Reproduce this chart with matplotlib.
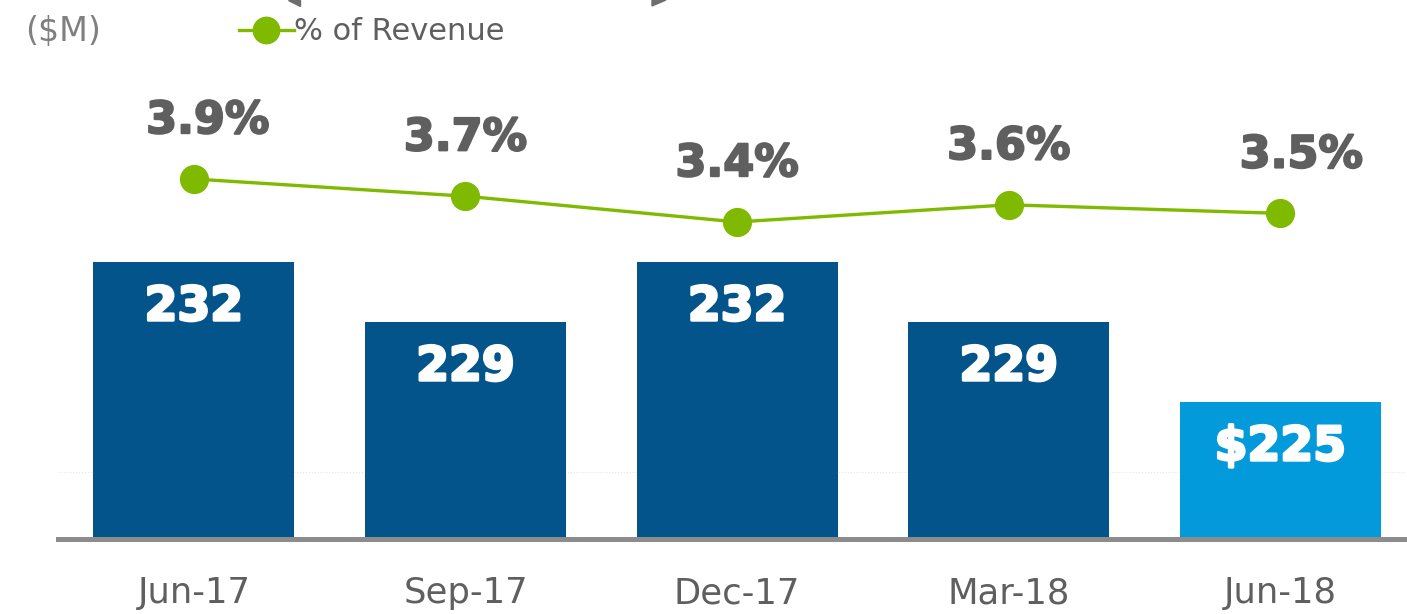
import numpy as np
import matplotlib.pyplot as plt
import matplotlib.patheffects as pe
from matplotlib.patches import Polygon

quarters = ['Jun-17', 'Sep-17', 'Dec-17', 'Mar-18', 'Jun-18']
spend = [232, 229, 232, 229, 225]
spend_labels = ['232', '229', '232', '229', '$225']
pct_rev = [3.9, 3.7, 3.4, 3.6, 3.5]

dark_blue = '#02548A'
light_blue = '#039ADB'
green = '#7FBA00'
grey_txt = '#5F5F5F'

fig = plt.figure(figsize=(14.07, 6.14), dpi=100)
ax = fig.add_axes([58 / 1407, 75 / 614, 1 - 58 / 1407, 539 / 614])

x = np.arange(len(quarters))
colors = [dark_blue] * 4 + [light_blue]
ax.bar(x, spend, width=0.74, color=colors, zorder=2)
ax.set_xlim(-0.5, 4.466)
ax.set_ylim(218.15, 245.1)

for xi, v, lab in zip(x, spend, spend_labels):
    ax.annotate(lab, (xi, v), xytext=(0, -33), textcoords='offset points',
                ha='center', va='center', color='white', fontsize=34,
                fontweight='bold', zorder=4,
                path_effects=[pe.withStroke(linewidth=2, foreground='white')])

ax.set_xticks(x)
ax.set_xticklabels(quarters, fontsize=25.5, color=grey_txt)
ax.tick_params(axis='x', length=0, pad=27)
ax.set_yticks([])
for s in ['top', 'right', 'left']:
    ax.spines[s].set_visible(False)
ax.spines['bottom'].set_color('#8C8C8C')
ax.spines['bottom'].set_linewidth(3.6)
ax.set_facecolor('none')

# faint guide line
ax.axhline(221.5, color='#E6E6E6', lw=0.8, ls=':', zorder=0)

ax2 = ax.twinx()
ax2.set_ylim(-0.286, 5.981)
ax2.plot(x, pct_rev, color=green, lw=2.4, marker='o', markersize=20, zorder=3,
         label='% of Revenue')
label_dx = [10, 0, 0, 0, 15]
for xi, p, dx in zip(x, pct_rev, label_dx):
    ax2.annotate(f'{p:.1f}%', (xi, p), xytext=(dx, 42), textcoords='offset points',
                 ha='center', va='center', color=grey_txt, fontsize=32,
                 fontweight='bold',
                 path_effects=[pe.withStroke(linewidth=1.5, foreground=grey_txt)])
ax2.set_yticks([])
for s in ['top', 'right', 'left', 'bottom']:
    ax2.spines[s].set_visible(False)

# legend and unit label
fig.text(25 / 1407, 1 - 31 / 614, '($M)', fontsize=24, color='#808080',
         va='center', ha='left')
ax2.legend(loc='upper left', bbox_to_anchor=(153 / 1349, 1.019),
           frameon=False, fontsize=22, handlelength=1.8,
           handletextpad=0.0, labelcolor=grey_txt, markerscale=0.95)

# partial grey shapes at the top edge
fig.patches.append(Polygon([[288 / 1407, 1], [300 / 1407, 1], [300 / 1407, 1 - 6 / 614]],
                           closed=True, transform=fig.transFigure,
                           color='#6E6E6E', zorder=0))
fig.patches.append(Polygon([[652 / 1407, 1], [666 / 1407, 1], [652 / 1407, 1 - 6 / 614]],
                           closed=True, transform=fig.transFigure,
                           color='#6E6E6E', zorder=0))

fig.savefig('out.png', dpi=100)
